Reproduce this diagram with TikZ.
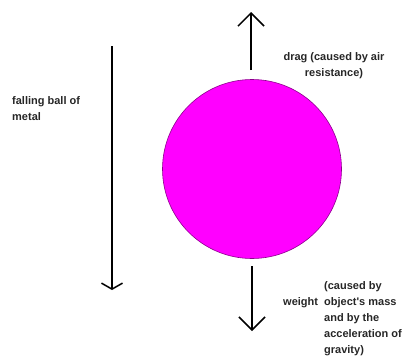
\documentclass[tikz,border=0pt]{standalone}
\usepackage{fontspec}
\setmainfont{Liberation Sans}
\usetikzlibrary{arrows.meta}
\definecolor{ballfill}{RGB}{255,0,255}
\definecolor{ballline}{RGB}{140,0,140}
\tikzset{
  force/.style={line width=1.5pt, -{Straight Barb[length=13pt,width=26pt,line width=1.5pt]}},
  motion/.style={line width=1.5pt, -{Straight Barb[length=6pt,width=21pt,line width=1.5pt]}},
  lbl/.style={font=\fontsize{11}{16}\selectfont\bfseries, inner sep=0pt, text=black!85},
}
\begin{document}
\begin{tikzpicture}[x=1pt,y=-1pt]
\useasboundingbox (0,0) rectangle (414,356);
\node[circle, fill=ballfill, draw=ballline, line width=0.6pt, minimum size=179pt, inner sep=0pt] (ball) at (252,169) {};
\coordinate (dragtop) at (251,12);
\coordinate (dragbot) at (251,70);
\draw[force] (dragbot) -- (dragtop);
\coordinate (wtop) at (252,266);
\coordinate (wbot) at (252,331);
\draw[force] (wtop) -- (wbot);
\coordinate (ftop) at (112,46);
\coordinate (fbot) at (112,290);
\draw[motion] (ftop) -- (fbot);
\node[lbl, align=center, anchor=base] (drag) at (334,76) {drag (caused by air\\resistance)};
\node[lbl, align=left, anchor=base west] (fall) at (12,120) {falling ball of\\metal};
\node[lbl, anchor=base west] (weight) at (283,305) {weight};
\node[lbl, align=left, anchor=base west] (cause) at (324,353) {(caused by\\object\textquotesingle s mass\\and by the\\acceleration of\\gravity)};
\end{tikzpicture}
\end{document}
